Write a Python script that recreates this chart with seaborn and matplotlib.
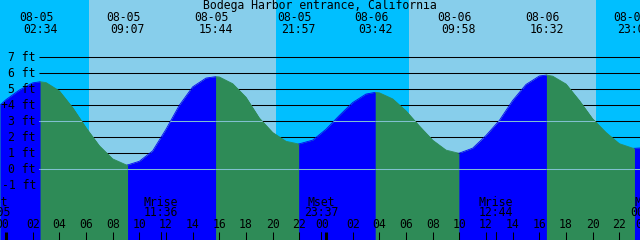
import matplotlib
matplotlib.use("Agg")
import matplotlib.pyplot as plt
import matplotlib.transforms as mtransforms
import seaborn as sns
import numpy as np
import pandas as pd

# ---------------- data ----------------
title = "Bodega Harbor entrance, California"
event_dates = ["08-05", "08-05", "08-05", "08-05", "08-06", "08-06", "08-06", "08-06"]
event_times = ["02:34", "09:07", "15:44", "21:57", "03:42", "09:58", "16:32", "23:08"]
event_heights = [5.47, 0.27, 5.79, 1.58, 4.81, 1.00, 5.89, 1.31]

# tide height (hours after 08-05 00:00, feet)
read_hours = [-0.45, 0, 1, 2, 3, 4, 5, 6, 7, 8, 9, 10, 11, 12, 13, 14, 15, 16, 17,
              18, 19, 20, 21, 23, 24, 25, 26, 27, 28, 29, 30, 31, 32, 33, 35, 36,
              37, 38, 39, 40, 41, 42, 43, 44, 45, 46, 47, 47.55]
read_heights = [4.0, 4.35, 4.95, 5.4, 5.42, 4.9, 3.85, 2.6, 1.47, 0.65, 0.28, 0.5,
                1.15, 2.5, 4.0, 5.15, 5.7, 5.77, 5.35, 4.5, 3.2, 2.3, 1.75, 1.82,
                2.5, 3.36, 4.17, 4.7, 4.78, 4.4, 3.65, 2.71, 1.82, 1.2, 1.32, 2.11,
                3.05, 4.3, 5.3, 5.83, 5.82, 5.33, 4.3, 3.15, 2.3, 1.6, 1.32, 1.33]

sunrise_hours = [6.23, 30.25]
sunset_hours = [20.25, 44.23]

moon_labels = ["Mset", "Mrise", "Mset", "Mrise", "Mset"]
moon_times = ["23:05", "11:36", "23:37", "12:44", "00:08"]
moon_days = [-1, 0, 0, 1, 2]

ft_levels = [-1, 0, 1, 2, 3, 4, 5, 6, 7]
ref_levels = [0, 3]
hour_ticks = list(range(0, 50, 2))

# ---------------- layout ----------------
W, H = 640, 240
X0, X1 = -0.45, 47.55
Y0, Y1 = -4.42, 10.58
NIGHT, DAY = "#00BFFF", "#87CEEB"
RISE, FALL = "#0000FF", "#2E8B57"
REFC = "#80C0D0"
PX = (X1 - X0) / W


def hhmm(s):
    h, m = s.split(":")
    return int(h) + int(m) / 60.0


def day_idx(d):
    return int(d.split("-")[1]) - 5


event_hours = [day_idx(d) * 24 + hhmm(t) for d, t in zip(event_dates, event_times)]
moon_hours = [d * 24 + hhmm(t) for d, t in zip(moon_days, moon_times)]

sns.set_theme(style="white")
plt.rcParams["font.family"] = ["DejaVu Sans Mono"]
FS = 8.3

fig = plt.figure(figsize=(6.4, 2.4), dpi=100)
ax = fig.add_axes([0, 0, 1, 1])
ax.set_xlim(X0, X1)
ax.set_ylim(Y0, Y1)
ax.axis("off")
fig.patch.set_facecolor(NIGHT)

# day/night background
ax.axvspan(X0, X1, color=NIGHT, lw=0, zorder=0)
for sr, ss in zip(sunrise_hours, sunset_hours):
    ax.axvspan(sr, ss, color=DAY, lw=0, zorder=0.5)

# grid lines (behind curve)
line_x0 = X0 + 39 * PX
for lv in ft_levels:
    ax.plot([line_x0, X1], [lv, lv], color="black", lw=0.75, zorder=1,
            solid_capstyle="butt")

# curve
df = pd.DataFrame({"t": read_hours + event_hours,
                   "h": read_heights + event_heights}).sort_values("t").reset_index(drop=True)
bounds = [X0] + event_hours + [X1]
segs = []
for i in range(len(bounds) - 1):
    a, b = bounds[i], bounds[i + 1]
    sub = df[(df.t >= a - 1e-9) & (df.t <= b + 1e-9)].copy()
    sub["seg"] = f"s{i}"
    segs.append(sub)
curve = pd.concat(segs, ignore_index=True)
palette = {f"s{i}": (RISE if i % 2 == 0 else FALL) for i in range(len(bounds) - 1)}

# base fill (green) then each segment fill
ax.fill_between(df.t, df.h, Y0, color=FALL, lw=0, zorder=2)
for i, sub in enumerate(segs):
    coll = ax.fill_between(sub.t, sub.h, Y0, color=palette[f"s{i}"], lw=0, zorder=2.1)
    for lv in ref_levels:
        ln, = ax.plot([line_x0, X1], [lv, lv], color=REFC, lw=0.75, zorder=3)
        ln.set_clip_path(coll.get_paths()[0], ax.transData)

sns.lineplot(data=curve, x="t", y="h", hue="seg", palette=palette, units="seg",
             estimator=None, sort=False, lw=0.6, legend=False, ax=ax, zorder=2.2)
ax.set_xlim(X0, X1)
ax.set_ylim(Y0, Y1)
ax.axis("off")

# y labels
for lv in ft_levels:
    ax.text(X0 + 36 * PX, lv, f"{lv} ft", ha="right", va="center", fontsize=FS,
            color="black", zorder=5)
ax.text(X0 + 3.5 * PX, (169.3 - 106) / 16, "+", ha="center", va="center",
        fontsize=FS, color="black", zorder=5)

trans = mtransforms.blended_transform_factory(ax.transData, ax.transAxes)


def yf(ypx):
    return 1 - ypx / H


# title
ax.text(0.5, yf(6), title, transform=ax.transAxes, ha="center", va="center",
        fontsize=FS, color="black", zorder=5)

# event labels
for t, d, s in zip(event_hours, event_dates, event_times):
    ax.text(t - 4 * PX, yf(17.3), d, transform=trans, ha="center", va="center",
            fontsize=FS, color="black", zorder=5)
    ax.text(t, yf(29.3), s, transform=trans, ha="center", va="center",
            fontsize=FS, color="black", zorder=5)

# moon labels and ticks
for t, lab, s in zip(moon_hours, moon_labels, moon_times):
    ax.text(t, yf(202), lab, transform=trans, ha="center", va="center",
            fontsize=FS, color="black", zorder=5)
    ax.text(t, yf(213), s, transform=trans, ha="center", va="center",
            fontsize=FS, color="black", zorder=5)
    ax.plot([t, t], [yf(232), 0], transform=trans, color="black", lw=0.75, zorder=5)

# hour ticks
for hr in hour_ticks:
    mid = hr % 24 == 0
    lx = hr - (4 * PX if mid else 0)
    ax.text(lx, yf(224), f"{hr % 24:02d}", transform=trans, ha="center", va="center",
            fontsize=FS, color="black", zorder=5)
    ax.plot([hr, hr], [yf(232), 0], transform=trans, color="black",
            lw=2.2 if mid else 0.75, zorder=5, solid_capstyle="butt")

fig.savefig("out.png", dpi=100, facecolor=NIGHT)
